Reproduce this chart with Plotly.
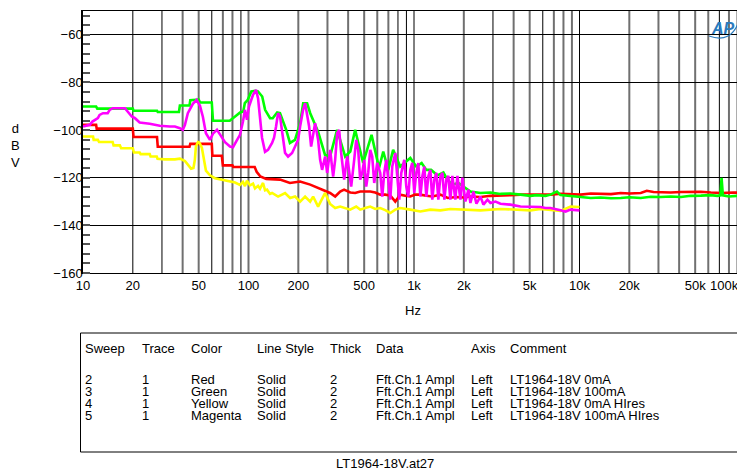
import plotly.graph_objects as go

# ---------------- data (Hz, dBV) ----------------
RED_F = [10, 12, 12.1, 20, 20.2, 28, 28.3, 44, 44.5, 60, 60.5, 69, 70, 80, 81, 109, 112, 118, 128,
         155, 178, 205, 236, 263, 290, 311, 334, 358, 378, 412, 441, 473, 507, 544, 583, 625, 670,
         720, 771, 826, 886, 950, 1018, 1092, 1187, 1290, 1443, 1600, 1800, 2000, 2192, 2520, 2896,
         3330, 3827, 4400, 5058, 5815, 6683, 7683, 8835, 10150, 11700, 13420, 15500, 17740, 20000,
         23440, 25500, 28000, 30980, 35600, 41000, 47030, 54080, 62170, 72180, 85000, 100000]
RED_DB = [-97.8, -97.8, -99.4, -99.4, -102.9, -102.9, -107.0, -107.0, -105.8, -105.8, -110.8, -110.8,
          -114.8, -114.8, -115.5, -115.5, -117.5, -119.5, -120.5, -120.8, -122.2, -121.6, -122.9,
          -124.3, -125.3, -126.4, -127.9, -125.8, -125.0, -126.2, -126.4, -125.8, -125.8, -125.8,
          -126.2, -127.1, -127.1, -127.5, -130.0, -127.1, -127.6, -127.9, -127.1, -127.1, -127.6,
          -127.9, -127.1, -128.5, -128.1, -128.3, -127.9, -128.1, -127.6, -127.6, -127.3, -127.1,
          -127.1, -126.8, -127.1, -126.7, -126.9, -127.1, -126.6, -126.7, -126.9, -126.4, -126.6,
          -126.4, -125.5, -126.0, -126.2, -126.2, -126.0, -125.8, -125.9, -126.2, -126.4, -126.2,
          -126.4]

GREEN_F = [10, 12, 12.2, 20, 20.2, 28, 28.3, 38, 38.5, 44, 44.5, 50, 51, 60, 61, 69, 77, 83, 89,
           93, 95, 99, 104, 110, 114, 121, 126, 135, 140, 149, 155, 169, 178, 191, 205, 214, 226,
           236, 246, 263, 290, 311, 343, 384, 412, 441, 493, 554, 615, 652, 699, 748, 826, 950,
           1032, 1112, 1187, 1268, 1384, 1505, 1591, 1705, 1854, 2045, 2192, 2520, 2896, 3330,
           3827, 4400, 5058, 5500, 6234, 6683, 7300, 7683, 8835, 10150, 11700, 13420, 15500,
           17740, 20000, 23440, 26950, 30980, 35600, 41000, 47030, 54080, 62170, 68000, 71000,
           72180, 73500, 80000, 90000, 100000]
GREEN_DB = [-90.1, -90.1, -91.0, -91.0, -91.9, -91.9, -92.4, -92.4, -89.7, -89.7, -87.5, -87.2,
            -88.4, -88.4, -96.1, -96.1, -96.1, -94.3, -92.6, -92.2, -88.7, -87.3, -83.8, -83.5,
            -83.8, -85.9, -91.5, -95.0, -95.0, -92.6, -92.9, -99.9, -105.4, -104.1, -97.1, -88.7,
            -88.7, -92.9, -95.7, -100.6, -110.4, -111.1, -99.9, -111.1, -109.0, -99.9, -113.8,
            -102.0, -115.9, -109.0, -116.7, -108.3, -115.3, -111.7, -115.3, -113.8, -116.7,
            -116.7, -119.0, -117.8, -120.8, -122.9, -122.2, -124.3, -125.8, -126.4, -126.2,
            -126.8, -126.6, -127.1, -127.6, -127.3, -127.6, -127.1, -125.8, -127.3, -127.6,
            -127.9, -128.5, -128.3, -128.6, -128.5, -128.2, -128.5, -128.0, -128.1, -127.9,
            -128.1, -127.6, -127.5, -127.3, -127.6, -127.4, -120.0, -127.4, -127.9, -127.6,
            -127.9]

YELLOW_F = [10, 11.5, 11.6, 12.3, 12.5, 15.1, 15.3, 16.7, 17, 20, 20.3, 22, 22.3, 25.3, 25.6, 27.9,
            28.2, 31.2, 35.9, 38.5, 41.3, 43, 45, 46.5, 47.4, 48.1, 49.5, 50.5, 52.3, 55.3, 58.5,
            62.7, 69.1, 77.3, 82.9, 88.8, 92.6, 95.2, 97.9, 102.1, 106.5, 109.5, 114.2, 117.4,
            122.4, 125.9, 129.4, 134.9, 138.8, 150.9, 166.3, 178.4, 191.2, 205, 219.8, 235.7,
            245.7, 263.4, 282.5, 290.4, 311.4, 333.9, 358, 383.8, 411.5, 447.4, 473.1, 507.2,
            543.8, 583.1, 625.2, 670.4, 718.8, 770.7, 826.2, 949.7, 1092, 1255, 1443, 1658, 1907,
            2520, 3330, 4400, 5058, 5815, 7683, 8835, 10000]
YELLOW_DB = [-102.7, -102.7, -104.1, -104.1, -105.0, -105.0, -106.4, -106.4, -107.6, -107.6,
             -109.4, -109.4, -110.1, -110.1, -111.1, -111.1, -112.0, -112.3, -112.3, -112.0,
             -113.0, -114.6, -116.2, -115.9, -112.5, -106.9, -105.0, -105.2, -107.5, -117.0,
             -119.0, -120.2, -120.8, -121.5, -122.0, -123.0, -121.8, -123.5, -121.3, -123.2,
             -122.5, -124.5, -123.4, -124.6, -122.2, -125.3, -125.0, -126.8, -126.4, -127.9,
             -126.4, -128.5, -127.9, -130.0, -127.9, -130.0, -127.9, -132.1, -127.9, -126.4,
             -131.0, -132.7, -132.1, -132.7, -133.4, -132.1, -133.4, -132.7, -132.1, -133.1,
             -132.7, -133.6, -134.8, -133.4, -132.7, -133.4, -134.2, -133.4, -133.7, -133.1,
             -133.4, -133.7, -133.1, -133.7, -133.7, -133.1, -133.9, -132.1, -132.3]

MAGENTA_F = [10, 11.0, 11.4, 12.3, 12.6, 13.2, 14.1, 14.5, 15.1, 17.9, 18.6, 19.7, 20.6, 22.0, 25.3,
             27.2, 29.1, 33.5, 35.9, 38.5, 40.1, 41.3, 43.0, 46.1, 48.6, 50.9, 53.0, 55.3, 58.5,
             61.0, 64.5, 67.2, 72.1, 77.3, 80.6, 84.0, 88.8, 92.6, 95.2, 97.9, 100.7, 106.5, 111.0,
             114.2, 117.4, 120.7, 125.9, 131.2, 138.8, 142.7, 146.7, 150.9, 155.1, 161.8, 166.3,
             173.4, 183.4, 191.2, 199.4, 205.0, 213.8, 219.8, 226.0, 232.4, 239.0, 245.7, 252.6,
             263.4, 270.9, 278.5, 290.4, 298.7, 311.4, 324.7, 333.9, 343.3, 353.0, 363.0, 378.5,
             394.7, 405.8, 417.3, 435.1, 447.4, 460.0, 473.1, 486.4, 500.2, 514.3, 528.9, 543.8,
             559.2, 575.0, 599.6, 625.2, 642.9, 661.1, 679.8, 699.0, 718.8, 739.1, 770.7, 792.5,
             814.8, 837.8, 873.5, 898.3, 923.6, 949.7, 976.5, 1004, 1032, 1062, 1092, 1123, 1154,
             1187, 1220, 1255, 1290, 1327, 1365, 1403, 1443, 1484, 1526, 1569, 1613, 1658, 1705,
             1778, 1829, 1907, 1961, 2045, 2132, 2192, 2286, 2384, 2520, 2627, 2778, 2896, 3105,
             3330, 3827, 4400, 5058, 5815, 6234, 6683, 7683, 8237, 8835, 10000]
MAGENTA_DB = [-98.5, -97.8, -96.4, -95.0, -93.6, -92.9, -92.9, -91.5, -90.8, -90.8, -92.2, -94.3,
              -95.0, -96.8, -97.3, -97.8, -98.2, -98.5, -98.5, -99.2, -99.9, -97.8, -92.9, -89.0,
              -87.3, -89.8, -94.4, -101.3, -104.1, -101.5, -99.9, -101.8, -105.1, -106.9, -107.2,
              -104.9, -102.0, -96.4, -91.5, -95.7, -90.1, -85.2, -83.1, -86.6, -93.6, -103.2,
              -109.1, -108.3, -105.4, -103.2, -98.5, -92.9, -94.3, -104.1, -109.6, -111.1, -109.6,
              -106.9, -104.1, -98.5, -91.5, -88.7, -92.9, -98.5, -106.9, -101.3, -97.1, -104.1,
              -112.5, -116.7, -111.1, -118.0, -108.3, -119.5, -112.5, -101.3, -99.9, -109.6,
              -120.8, -111.1, -118.0, -123.7, -112.5, -104.1, -108.3, -120.8, -118.0, -112.5,
              -123.7, -118.0, -108.3, -111.1, -122.2, -113.8, -118.0, -127.9, -118.0, -112.5,
              -120.8, -129.2, -115.3, -109.6, -119.5, -129.2, -118.0, -112.5, -123.7, -127.9,
              -116.7, -113.8, -126.4, -118.0, -113.8, -127.9, -119.5, -115.3, -127.9, -119.5,
              -116.7, -129.2, -120.8, -118.0, -129.2, -119.5, -118.0, -129.2, -120.8, -119.2,
              -129.2, -119.2, -129.2, -119.2, -129.2, -120.0, -130.0, -125.0, -130.6, -125.8,
              -130.9, -127.9, -131.3, -129.2, -130.6, -130.0, -130.9, -131.3, -132.1, -132.2,
              -132.3, -132.7, -132.7, -133.7, -134.2, -133.4, -133.7]

TRACE_COLORS = ["#ff0000", "#00ff00", "#ffff00", "#ff00ff"]

FREQ_TICKS = [10, 20, 50, 100, 200, 500, 1000, 2000, 5000, 10000, 20000, 50000]
FREQ_TICK_TEXT = ["10", "20", "50", "100", "200", "500", "1k", "2k", "5k", "10k", "20k", "50k"]
LAST_FREQ_LABEL = "100k"
DB_TICKS = [-160, -140, -120, -100, -80, -60]

GRID_GREY = [40, 50, 70, 80, 100, 200, 300, 400, 500, 600, 700, 2000, 4000, 5000, 7000, 8000,
             9000, 20000, 30000, 40000, 50000, 60000, 80000, 90000]
GRID_BLACK = [20, 30, 60, 90, 800, 900, 1000, 3000, 6000, 10000, 70000]

TABLE_HEADER = ["Sweep", "Trace", "Color", "Line Style", "Thick", "Data", "Axis", "Comment"]
TABLE_ROWS = [
    ["2", "1", "Red", "Solid", "2", "Fft.Ch.1 Ampl", "Left", "LT1964-18V 0mA"],
    ["3", "1", "Green", "Solid", "2", "Fft.Ch.1 Ampl", "Left", "LT1964-18V 100mA"],
    ["4", "1", "Yellow", "Solid", "2", "Fft.Ch.1 Ampl", "Left", "LT1964-18V 0mA HIres"],
    ["5", "1", "Magenta", "Solid", "2", "Fft.Ch.1 Ampl", "Left", "LT1964-18V 100mA HIres"],
]
FOOTER = "LT1964-18V.at27"

# ---------------- layout geometry ----------------
# the page puts the figure 8px in from the top-left corner, so the figure is sized to end
# exactly at the 745x470 window edge
OFF = 8
W, H = 745 - OFF, 470 - OFF
PLOT_L, PLOT_R, PLOT_T, PLOT_B = 83, 745, 11, 273        # in window pixels
L, R, T, B = PLOT_L - OFF, 745 - PLOT_R, PLOT_T - OFF, 470 - PLOT_B
PW, PH = W - L - R, H - T - B
FONT = "Liberation Sans, Arial, sans-serif"


def pxx(x):
    return (x - OFF - L) / PW


def pxy(y):
    return (H - B - (y - OFF)) / PH


fig = go.Figure()
series = [(RED_F, RED_DB), (GREEN_F, GREEN_DB), (YELLOW_F, YELLOW_DB), (MAGENTA_F, MAGENTA_DB)]
for (f, d), c in zip(series, TRACE_COLORS):
    fig.add_trace(go.Scatter(x=f, y=d, mode="lines", line=dict(color=c, width=2.6),
                             hoverinfo="skip"))

shapes = []
for f in GRID_GREY:
    shapes.append(dict(type="line", xref="x", yref="paper", x0=f, x1=f,
                       y0=0, y1=1, layer="below", line=dict(color="#707070", width=2)))
for f in GRID_BLACK:
    shapes.append(dict(type="line", xref="x", yref="paper", x0=f, x1=f,
                       y0=0, y1=1, layer="below", line=dict(color="black", width=1)))
shapes.append(dict(type="rect", xref="paper", yref="paper", x0=pxx(80.5), x1=pxx(760),
                   y0=pxy(452), y1=pxy(333), line=dict(color="black", width=1)))
shapes.append(dict(type="path", xref="paper", yref="paper",
                   path="M %f %f Q %f %f %f %f" % (pxx(709), pxy(36), pxx(731), pxy(44),
                                                   pxx(739), pxy(21)),
                   line=dict(color="#2b7bbd", width=1.2)))

txt_font = dict(family=FONT, size=13, color="black")
annotations = []


def label(x, y, text, anchor="left", font=txt_font):
    annotations.append(dict(x=pxx(x), y=pxy(y), xref="paper", yref="paper", text=text,
                            showarrow=False, xanchor=anchor, yanchor="middle", font=font,
                            borderpad=0))


label(740, 285, LAST_FREQ_LABEL, "right")
label(413, 310, "Hz", "center")
label(15, 145, "d<br>B<br>V", "center")
col_x = [84, 141, 190, 256, 329, 375, 470, 509]
for txt, cx in zip(TABLE_HEADER, col_x):
    label(cx, 348, txt)
for i, row in enumerate(TABLE_ROWS):
    for txt, cx in zip(row, col_x):
        label(cx, 379 + 12 * i, txt)
label(385, 463, FOOTER, "center")
label(723, 28, "<i><b>AP</b></i>", "center", dict(family=FONT, size=16, color="#2b7bbd"))

fig.update_layout(
    width=W, height=H, margin=dict(l=L, r=R, t=T, b=B, pad=0),
    paper_bgcolor="white", plot_bgcolor="white", showlegend=False,
    font=txt_font,
    xaxis=dict(type="log", range=[1, 5], tickmode="array", tickvals=FREQ_TICKS,
               ticktext=FREQ_TICK_TEXT, showgrid=False, ticks="", showline=True,
               linecolor="black", linewidth=1, mirror=True, zeroline=False,
               tickfont=txt_font),
    yaxis=dict(range=[-160, -50], tickmode="array", tickvals=DB_TICKS, showgrid=True,
               gridcolor="black", gridwidth=1, ticks="", showline=True, linecolor="black",
               linewidth=1.5, zeroline=False, ticklabelstandoff=-4, tickfont=txt_font,
               minor=dict(dtick=4, tick0=-160, ticks="inside", ticklen=7, tickwidth=1.5,
                          tickcolor="#555555", showgrid=False)),
    annotations=annotations, shapes=shapes,
)

fig.write_html("out.html")
